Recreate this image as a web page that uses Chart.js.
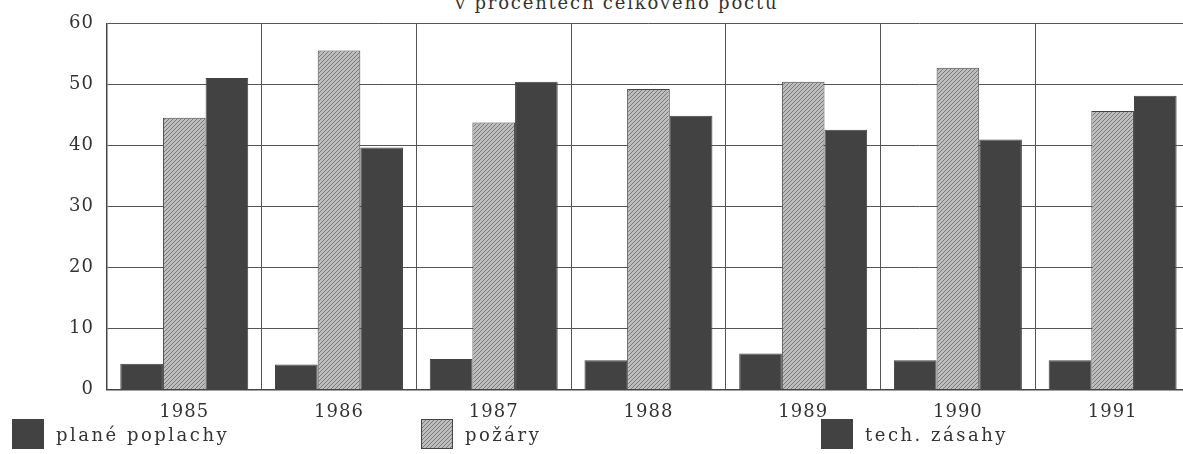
<!DOCTYPE html>
<html>
<head>
<meta charset="utf-8">
<script src="https://cdn.jsdelivr.net/npm/chart.js@4/dist/chart.umd.min.js"></script>
<style>
  body { margin: 0; width: 1183px; height: 454px; overflow: hidden; background: #fff; position: relative; font-family: "DejaVu Serif", serif; color: #333; }
  #wrap { position: absolute; left: 0; top: 0; width: 1192px; height: 454px; }
  #title { position: absolute; left: 455px; top: -6px; font-size: 18px; line-height: 18px; letter-spacing: 1.8px; white-space: nowrap; }
  .item { position: absolute; top: 419px; height: 30px; display: flex; align-items: center; font-size: 18px; letter-spacing: 2.5px; white-space: nowrap; }
  .box { width: 32px; height: 30px; margin-right: 12px; box-sizing: border-box; }
</style>
</head>
<body>
<div id="title">v procentech celkového počtu</div>
<div id="wrap"><canvas id="c"></canvas></div>
<div id="legend"></div>
<script>
const years = ['1985', '1986', '1987', '1988', '1989', '1990', '1991'];
const planePoplachy = [4.2, 4.1, 5.0, 4.8, 5.9, 4.8, 4.8];
const pozary = [44.6, 55.6, 43.8, 49.3, 50.5, 52.8, 45.7];
const techZasahy = [51.1, 39.7, 50.5, 44.9, 42.6, 41.0, 48.2];
const seriesNames = ['plané poplachy', 'požáry', 'tech. zásahy'];

const dark = '#424242';

// hatched fill for the middle series
const pc = document.createElement('canvas');
pc.width = 4; pc.height = 4;
const pctx = pc.getContext('2d');
pctx.fillStyle = '#bdbdbd';
pctx.fillRect(0, 0, 4, 4);
pctx.fillStyle = '#7a7a7a';
for (let i = 0; i < 4; i++) pctx.fillRect(i, 3 - i, 1, 1);
const hatch = pctx.createPattern(pc, 'repeat');

const spacing = {
  id: 'spacing',
  beforeUpdate(c) { c.ctx.letterSpacing = '1px'; },
  beforeDraw(c) { c.ctx.letterSpacing = '1px'; }
};

const tickFont = { family: '"DejaVu Serif", serif', size: 18 };

const chart = new Chart(document.getElementById('c'), {
  type: 'bar',
  data: {
    labels: years,
    datasets: [
      { label: seriesNames[0], data: planePoplachy, backgroundColor: dark, borderColor: dark, borderWidth: 1 },
      { label: seriesNames[1], data: pozary, backgroundColor: hatch, borderColor: '#444', borderWidth: 1 },
      { label: seriesNames[2], data: techZasahy, backgroundColor: dark, borderColor: dark, borderWidth: 1 }
    ]
  },
  options: {
    responsive: true,
    maintainAspectRatio: false,
    animation: false,
    datasets: { bar: { categoryPercentage: 0.827, barPercentage: 1 } },
    layout: { padding: { left: 56, top: 23, right: 2, bottom: 19 } },
    plugins: {
      legend: { display: false },
      tooltip: { enabled: false }
    },
    scales: {
      x: {
        grid: { color: '#555', lineWidth: 1, drawTicks: false },
        border: { color: '#444', width: 1.5 },
        ticks: { color: '#333', font: tickFont, padding: 12 }
      },
      y: {
        min: 0,
        max: 60,
        grid: { color: '#555', lineWidth: 1, drawTicks: false },
        border: { color: '#444', width: 1.5 },
        ticks: { stepSize: 10, color: '#333', font: tickFont, padding: 13 }
      }
    }
  },
  plugins: [spacing]
});

// legend below the chart, built from the datasets
const legendLeft = [12, 421, 821];
const legend = document.getElementById('legend');
chart.data.datasets.forEach((ds, i) => {
  const item = document.createElement('div');
  item.className = 'item';
  item.style.left = legendLeft[i] + 'px';
  const box = document.createElement('span');
  box.className = 'box';
  if (ds.backgroundColor === hatch) {
    box.style.backgroundImage = 'url(' + pc.toDataURL() + ')';
    box.style.border = '1px solid #444';
  } else {
    box.style.background = ds.backgroundColor;
  }
  item.appendChild(box);
  item.appendChild(document.createTextNode(ds.label));
  legend.appendChild(item);
});
</script>
</body>
</html>
